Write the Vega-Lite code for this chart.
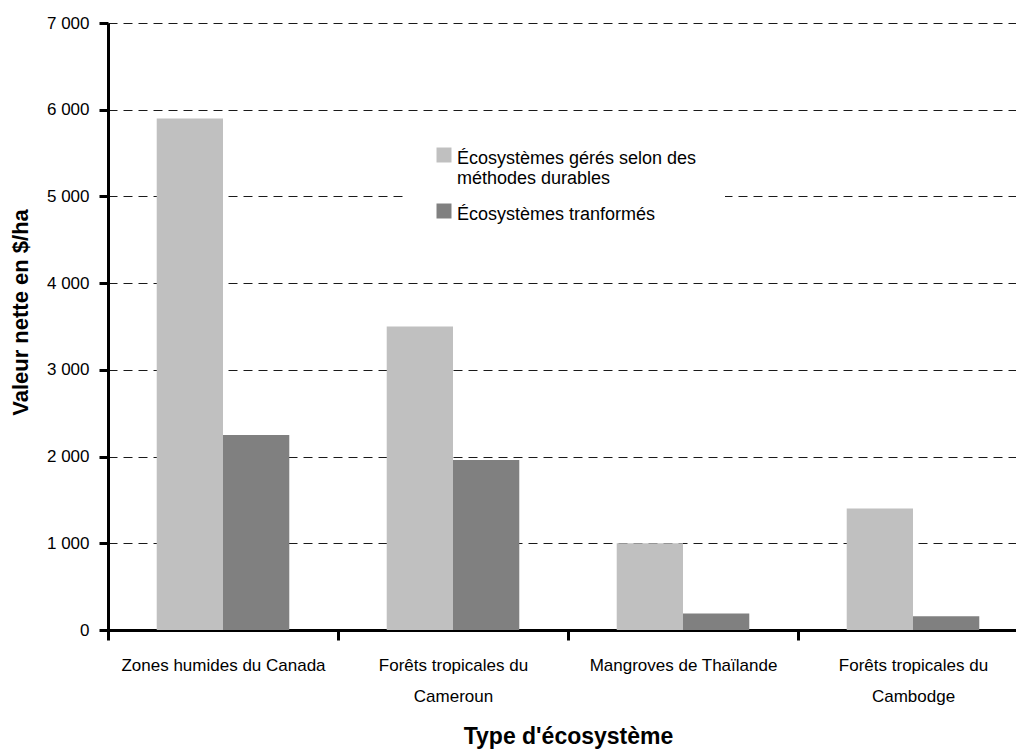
{
  "$schema": "https://vega.github.io/schema/vega-lite/v6.json",
  "width": 908,
  "height": 607,
  "autosize": {"type": "none"},
  "padding": {"left": 108, "top": 23, "right": 0, "bottom": 121},
  "background": "white",
  "config": {
    "font": "Liberation Sans",
    "view": {"stroke": null}
  },
  "data": {
    "values": [
      {"ecosysteme": "Zones humides du Canada", "gestion": "Écosystèmes gérés selon des méthodes durables", "valeur": 5900},
      {"ecosysteme": "Zones humides du Canada", "gestion": "Écosystèmes tranformés", "valeur": 2250},
      {"ecosysteme": "Forêts tropicales du Cameroun", "gestion": "Écosystèmes gérés selon des méthodes durables", "valeur": 3500},
      {"ecosysteme": "Forêts tropicales du Cameroun", "gestion": "Écosystèmes tranformés", "valeur": 1960},
      {"ecosysteme": "Mangroves de Thaïlande", "gestion": "Écosystèmes gérés selon des méthodes durables", "valeur": 1000},
      {"ecosysteme": "Mangroves de Thaïlande", "gestion": "Écosystèmes tranformés", "valeur": 190},
      {"ecosysteme": "Forêts tropicales du Cambodge", "gestion": "Écosystèmes gérés selon des méthodes durables", "valeur": 1400},
      {"ecosysteme": "Forêts tropicales du Cambodge", "gestion": "Écosystèmes tranformés", "valeur": 160}
    ]
  },
  "mark": {"type": "bar"},
  "encoding": {
    "x": {
      "field": "ecosysteme",
      "type": "nominal",
      "sort": null,
      "scale": {"range": [0, 920], "paddingInner": 0, "paddingOuter": 0},
      "axis": {
        "title": "Type d'écosystème",
        "titleFont": "Liberation Sans",
        "titleFontSize": 23,
        "titleFontWeight": "bold",
        "titleColor": "black",
        "titlePadding": 21,
        "labelAngle": 0,
        "labelFontSize": 17,
        "labelColor": "black",
        "labelPadding": 17,
        "labelLimit": 400,
        "labelLineHeight": 31,
        "labelExpr": "datum.label == 'Forêts tropicales du Cameroun' ? ['Forêts tropicales du', 'Cameroun'] : datum.label == 'Forêts tropicales du Cambodge' ? ['Forêts tropicales du', 'Cambodge'] : datum.label",
        "domainColor": "black",
        "domainWidth": 3,
        "tickBand": "extent",
        "tickColor": "black",
        "tickWidth": 3,
        "tickSize": 10,
        "grid": false
      }
    },
    "xOffset": {
      "field": "gestion",
      "type": "nominal",
      "sort": ["Écosystèmes gérés selon des méthodes durables", "Écosystèmes tranformés"],
      "scale": {"paddingInner": 0, "paddingOuter": 0.735}
    },
    "y": {
      "field": "valeur",
      "type": "quantitative",
      "scale": {"domain": [0, 7000], "nice": false},
      "axis": {
        "title": "Valeur nette en $/ha",
        "titleFont": "Liberation Sans",
        "titleFontSize": 22,
        "titleFontWeight": "bold",
        "titleColor": "black",
        "titlePadding": 14,
        "titleY": 289,
        "values": [0, 1000, 2000, 3000, 4000, 5000, 6000, 7000],
        "labelExpr": "replace(format(datum.value, ',d'), ',', ' ')",
        "labelFontSize": 17,
        "labelColor": "black",
        "labelPadding": 10,
        "domainColor": "black",
        "domainWidth": 3,
        "tickColor": "black",
        "tickWidth": 3,
        "tickSize": 9,
        "grid": true,
        "gridColor": "#1a1a1a",
        "gridWidth": 1,
        "gridDash": [9, 6]
      }
    },
    "color": {
      "field": "gestion",
      "type": "nominal",
      "sort": ["Écosystèmes gérés selon des méthodes durables", "Écosystèmes tranformés"],
      "scale": {"range": ["#C0C0C0", "#808080"]},
      "legend": {
        "title": null,
        "orient": "none",
        "legendX": 299,
        "legendY": 95,
        "padding": 28,
        "fillColor": "white",
        "strokeColor": null,
        "symbolType": "square",
        "symbolSize": 225,
        "symbolStrokeWidth": 0,
        "symbolOpacity": 1,
        "labelFontSize": 18,
        "labelColor": "black",
        "labelLineHeight": 29,
        "labelBaseline": "top",
        "labelOffset": 4,
        "labelLimit": 400,
        "rowPadding": 14,
        "labelExpr": "datum.label == 'Écosystèmes gérés selon des méthodes durables' ? ['Écosystèmes gérés selon des', 'méthodes durables'] : datum.label",
        "encode": {
          "labels": {"update": {"dy": {"value": -5}}}
        }
      }
    }
  }
}
